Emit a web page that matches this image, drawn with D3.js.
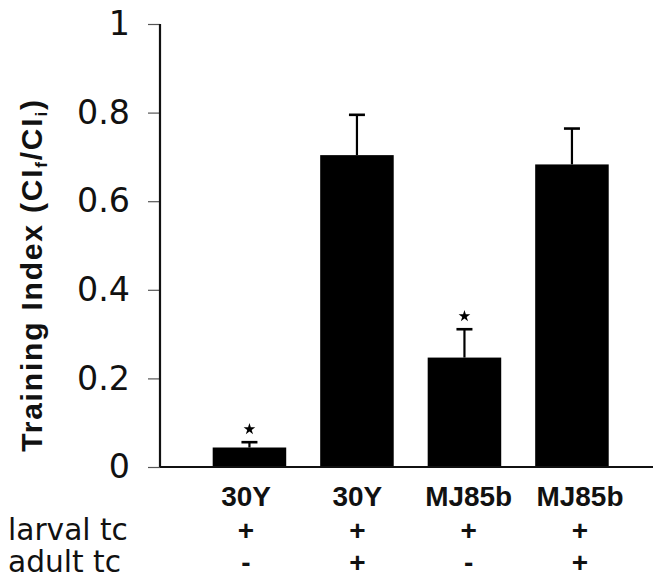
<!DOCTYPE html>
<html>
<head>
<meta charset="utf-8">
<script src="https://cdn.jsdelivr.net/npm/d3@7"></script>
<style>
	body { margin: 0; background: #fff; }
	svg { display: block; }
</style>
</head>
<body>
<svg id="chart" width="653" height="579"></svg>
<script>
// Values.
var groups = ["30Y", "30Y", "MJ85b", "MJ85b"];
var means = [0.044, 0.704, 0.247, 0.683];
var sems = [0.012, 0.091, 0.064, 0.081];
var starred = [true, false, true, false];
var larval = ["+", "+", "+", "+"];
var adult = ["-", "+", "-", "+"];
var rowNames = ["larval tc", "adult tc"];
var yTicks = [0, 0.2, 0.4, 0.6, 0.8, 1];

var svg = d3.select("#chart");

// scale a text's font size so it spans the width seen in the figure
function fitSize(sel, target) {
	var w = sel.node().getComputedTextLength();
	return +sel.attr("font-size") * target / w;
}

var x = d3.scaleBand()
	.domain(d3.range(groups.length))
	.range([195.7, 625.7])
	.paddingInner(0.316)
	.paddingOuter(0.158);

// the table under the chart sits a little wider than the bars
var col = d3.scalePoint()
	.domain(d3.range(groups.length))
	.range([246, 580]);

var y = d3.scaleLinear()
	.domain([0, 1])
	.range([467, 24]);

// y axis
var yAxis = d3.axisLeft(y)
	.tickValues(yTicks)
	.tickSize(12)
	.tickPadding(18)
	.tickFormat(function(d) { return d; });

var gy = svg.append("g")
	.attr("transform", "translate(160,0)")
	.call(yAxis);
gy.select(".domain").remove();
gy.selectAll(".tick line").attr("stroke", "#555").attr("stroke-width", 1.2);
var tickText = gy.selectAll(".tick text")
	.attr("font-family", "DejaVu Sans")
	.attr("font-size", 31)
	.attr("fill", "#111");
var probe = tickText.filter(function(d) { return d === 0.8; });
tickText.attr("font-size", fitSize(probe, 53));

svg.append("line")
	.attr("x1", 160).attr("x2", 160)
	.attr("y1", y(1)).attr("y2", y(0))
	.attr("stroke", "#111").attr("stroke-width", 2.2);

// bars
svg.selectAll("rect.bar")
	.data(means)
	.enter().append("rect")
	.attr("class", "bar")
	.attr("x", function(d, i) { return x(i); })
	.attr("width", x.bandwidth())
	.attr("y", function(d) { return y(d); })
	.attr("height", function(d) { return y(0) - y(d); })
	.attr("fill", "#000");

// x axis line on top of bars
svg.append("line")
	.attr("x1", 160).attr("x2", 653)
	.attr("y1", y(0)).attr("y2", y(0))
	.attr("stroke", "#111").attr("stroke-width", 2.2);

// error bars (upper only)
var err = svg.selectAll("g.err")
	.data(means)
	.enter().append("g")
	.attr("class", "err");

err.append("line")
	.attr("x1", function(d, i) { return x(i) + x.bandwidth() / 2; })
	.attr("x2", function(d, i) { return x(i) + x.bandwidth() / 2; })
	.attr("y1", function(d) { return y(d); })
	.attr("y2", function(d, i) { return y(d + sems[i]); })
	.attr("stroke", "#000").attr("stroke-width", 2.2);

err.append("line")
	.attr("x1", function(d, i) { return x(i) + x.bandwidth() / 2 - 8; })
	.attr("x2", function(d, i) { return x(i) + x.bandwidth() / 2 + 8; })
	.attr("y1", function(d, i) { return y(d + sems[i]); })
	.attr("y2", function(d, i) { return y(d + sems[i]); })
	.attr("stroke", "#000").attr("stroke-width", 2.6);

// significance stars
var starIdx = d3.range(means.length).filter(function(i) { return starred[i]; });
svg.selectAll("path.star")
	.data(starIdx)
	.enter().append("path")
	.attr("class", "star")
	.attr("d", d3.symbol(d3.symbolStar, 42))
	.attr("transform", function(i) {
		return "translate(" + (x(i) + x.bandwidth() / 2) + "," + (y(means[i] + sems[i]) - 13) + ")";
	})
	.attr("fill", "#000");

// y axis title
var title = svg.append("text")
	.attr("transform", "translate(42,275) rotate(-90)")
	.attr("text-anchor", "middle")
	.attr("font-family", "Liberation Sans")
	.attr("font-weight", "bold")
	.attr("font-size", 30)
	.attr("letter-spacing", 1.8)
	.attr("fill", "#111");
title.append("tspan").text("Training Index (CI");
title.append("tspan").attr("font-size", 17).attr("baseline-shift", "-30%").text("f");
title.append("tspan").text("/CI");
title.append("tspan").attr("font-size", 17).attr("baseline-shift", "-30%").text("i");
title.append("tspan").text(")");

// group labels
var grp = svg.selectAll("text.grp")
	.data(groups)
	.enter().append("text")
	.attr("class", "grp")
	.attr("x", function(d, i) { return col(i); })
	.attr("y", 506)
	.attr("text-anchor", "middle")
	.attr("font-family", "Liberation Sans")
	.attr("font-weight", "bold")
	.attr("font-size", 27)
	.attr("fill", "#111")
	.text(function(d) { return d; });
grp.attr("font-size", fitSize(grp.filter(function(d, i) { return i === 2; }), 87));

// treatment table
var rows = [larval, adult];
var rowY = [540, 572];

var rowText = svg.selectAll("text.rowname")
	.data(rowNames)
	.enter().append("text")
	.attr("class", "rowname")
	.attr("x", 8)
	.attr("y", function(d, i) { return rowY[i]; })
	.attr("font-family", "DejaVu Sans")
	.attr("font-size", 30)
	.attr("fill", "#111")
	.text(function(d) { return d; });
rowText.attr("font-size", fitSize(rowText.filter(function(d, i) { return i === 0; }), 120));

rows.forEach(function(r, ri) {
	svg.selectAll("text.sign" + ri)
		.data(r)
		.enter().append("text")
		.attr("class", "sign" + ri)
		.attr("x", function(d, i) { return col(i); })
		.attr("y", rowY[ri])
		.attr("text-anchor", "middle")
		.attr("font-family", "Liberation Sans")
		.attr("font-weight", "bold")
		.attr("font-size", 28)
		.attr("fill", "#111")
		.text(function(d) { return d; });
});
</script>
</body>
</html>
